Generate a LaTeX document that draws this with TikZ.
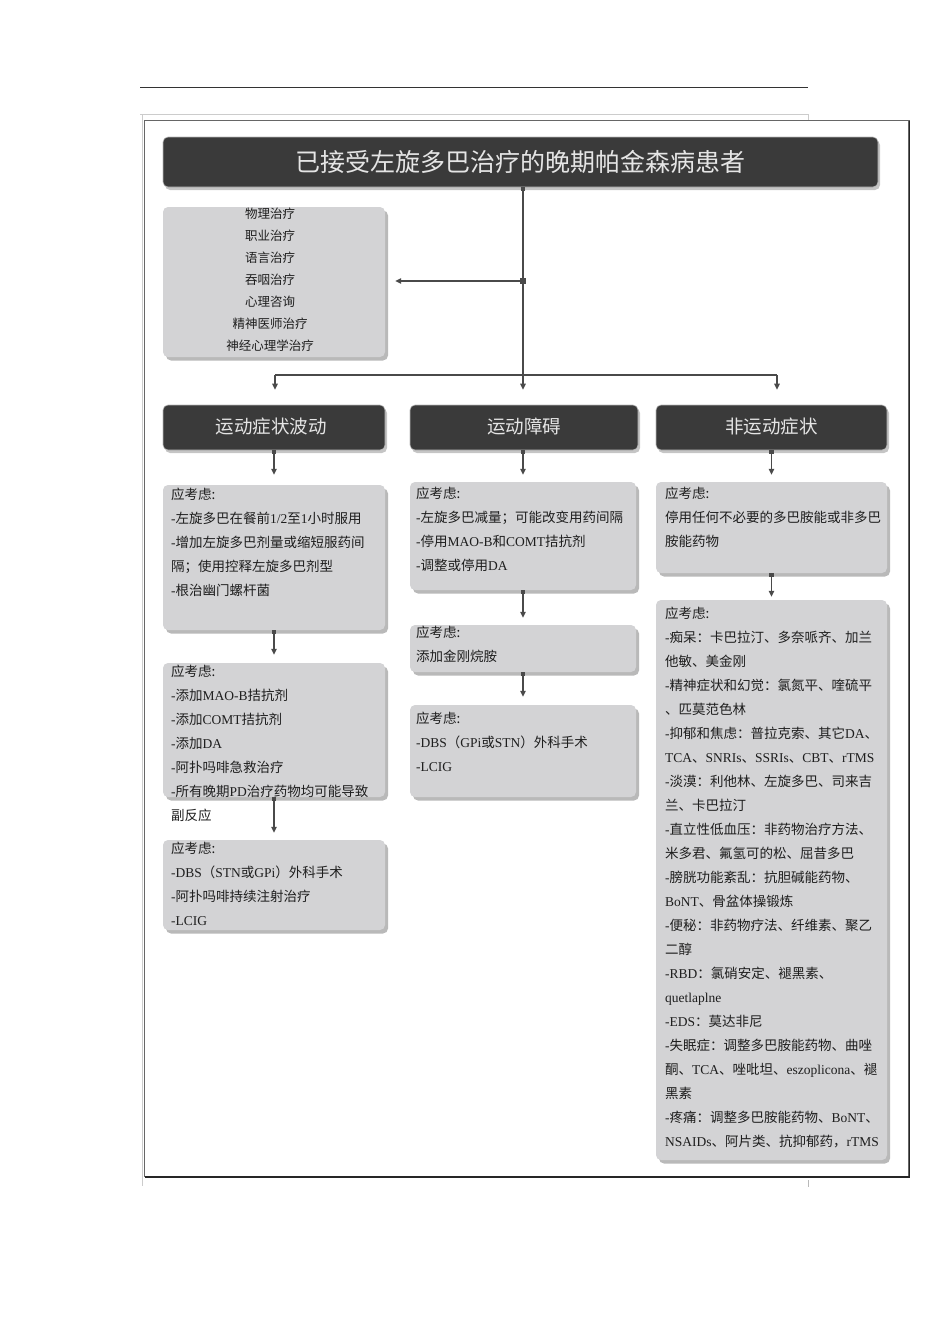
\documentclass[tikz,border=0pt]{standalone}
\usepackage{fontspec}
\setmainfont{Noto Sans CJK SC}
\newfontfamily\latinf{Liberation Serif}
\newcommand\rl[1]{{\latinf #1}}
\usetikzlibrary{shadows,arrows.meta}
\definecolor{darkbox}{HTML}{3A3A3A}
\definecolor{graybox}{HTML}{D3D3D5}
\definecolor{linec}{HTML}{4A4A4A}
\definecolor{txt}{HTML}{1E1E1E}
\begin{document}
\begin{tikzpicture}[x=1pt,y=-1pt,
  darkb/.style={rectangle, rounded corners=5pt, fill=darkbox, draw=gray!55, line width=0.6pt,
    text=white!90!black, inner sep=0pt,
    drop shadow={shadow xshift=2pt,shadow yshift=-3pt,fill=black!45}},
  grayb/.style={rectangle, rounded corners=5pt, fill=graybox, draw=none, inner sep=0pt,
    drop shadow={shadow xshift=3pt,shadow yshift=-3.5pt,fill=black!55}},
  bodytxt/.style={anchor=north west, inner sep=0pt, align=left, text=txt,
    font=\fontsize{13.5}{24}\selectfont},
  ln/.style={draw=linec, line width=1.2pt},
  arr/.style={ln, -{Triangle[length=6pt,width=5.5pt]}},
  sqarr/.style={ln, {Square[length=3.5pt,width=4.5pt]}-{Triangle[length=6pt,width=5.5pt]}},
]
\useasboundingbox (0,0) rectangle (950,1344);

% page rules and frame
\draw[black!80, line width=1pt] (140,87.5) -- (808,87.5);
\draw[gray!40, line width=0.6pt] (140,114) -- (808,114) -- (808,120);
\draw[gray!40, line width=0.6pt] (142,114) -- (142,1186);
\draw[gray!55, line width=0.6pt] (808,1180) -- (808,1187);
\draw[black!60, line width=1.1pt] (144.5,120.5) rectangle (909,1176.5);
\draw[black!85, line width=1.5pt] (909.5,120.5) -- (909.5,1177) -- (144.5,1177);

% title
\node[darkb, minimum width=715pt, minimum height=50pt, font=\fontsize{25}{30}\selectfont]
  (title) at (520.5,162) {\raisebox{1.5pt}{已接受左旋多巴治疗的晚期帕金森病患者}};

% therapy box
\node[grayb, minimum width=222pt, minimum height=150pt] (ther) at (274,282) {};
\node[anchor=north, inner sep=0pt, align=center, text=txt, font=\fontsize{12.5}{22}\selectfont]
  (thert) at (270,208) {物理治疗\\职业治疗\\语言治疗\\吞咽治疗\\心理咨询\\精神医师治疗\\神经心理学治疗};

% headers
\node[darkb, minimum width=222pt, minimum height=45pt, font=\fontsize{18.5}{22}\selectfont]
  (h1) at (274,427.5) {\raisebox{3pt}{运动症状波动\hspace{6pt}}};
\node[darkb, minimum width=228pt, minimum height=45pt, font=\fontsize{18.5}{22}\selectfont]
  (h2) at (524,427.5) {\raisebox{3pt}{运动障碍}};
\node[darkb, minimum width=231pt, minimum height=45pt, font=\fontsize{18.5}{22}\selectfont]
  (h3) at (771.5,427.5) {\raisebox{3pt}{非运动症状}};

% left column
\node[grayb, minimum width=222pt, minimum height=145pt] (L1) at (274,557.5) {};
\node[bodytxt] (L1t) at (171,488) {应考虑:\\
\rl{-}左旋多巴在餐前\rl{1/2}至\rl{1}小时服用\\
\rl{-}增加左旋多巴剂量或缩短服药间\\
隔；使用控释左旋多巴剂型\\
\rl{-}根治幽门螺杆菌};

\node[grayb, minimum width=222pt, minimum height=134pt] (L2) at (274,730) {};
\node[bodytxt] (L2t) at (171,665) {应考虑:\\
\rl{-}添加\rl{MAO-B}拮抗剂\\
\rl{-}添加\rl{COMT}拮抗剂\\
\rl{-}添加\rl{DA}\\
\rl{-}阿扑吗啡急救治疗\\
\rl{-}所有晚期\rl{PD}治疗药物均可能导致\\
副反应};

\node[grayb, minimum width=222pt, minimum height=90pt] (L3) at (274,885) {};
\node[bodytxt] (L3t) at (171,842) {应考虑:\\
\rl{-DBS}（\rl{STN}或\rl{GPi}）外科手术\\
\rl{-}阿扑吗啡持续注射治疗\\
\rl{-LCIG}};

% middle column
\node[grayb, minimum width=226pt, minimum height=108pt] (M1) at (523,536) {};
\node[bodytxt] (M1t) at (416,487) {应考虑:\\
\rl{-}左旋多巴减量；可能改变用药间隔\\
\rl{-}停用\rl{MAO-B}和\rl{COMT}拮抗剂\\
\rl{-}调整或停用\rl{DA}};

\node[grayb, minimum width=226pt, minimum height=47pt] (M2) at (523,648.5) {};
\node[bodytxt] (M2t) at (416,626) {应考虑:\\添加金刚烷胺};

\node[grayb, minimum width=226pt, minimum height=92pt] (M3) at (523,751) {};
\node[bodytxt] (M3t) at (416,712) {应考虑:\\
\rl{-DBS}（\rl{GPi}或\rl{STN}）外科手术\\
\rl{-LCIG}};

% right column
\node[grayb, minimum width=231pt, minimum height=91pt] (R1) at (771.5,527.5) {};
\node[bodytxt] (R1t) at (665,487) {应考虑:\\
停用任何不必要的多巴胺能或非多巴\\
胺能药物};

\node[grayb, minimum width=231pt, minimum height=560pt] (R2) at (771.5,880) {};
\node[bodytxt] (R2t) at (665,607) {应考虑:\\
\rl{-}痴呆：卡巴拉汀、多奈哌齐、加兰\\
他敏、美金刚\\
\rl{-}精神症状和幻觉：氯氮平、喹硫平\\
、匹莫范色林\\
\rl{-}抑郁和焦虑：普拉克索、其它\rl{DA}、\\
\rl{TCA}、\rl{SNRIs}、\rl{SSRIs}、\rl{CBT}、\rl{rTMS}\\
\rl{-}淡漠：利他林、左旋多巴、司来吉\\
兰、卡巴拉汀\\
\rl{-}直立性低血压：非药物治疗方法、\\
米多君、氟氢可的松、屈昔多巴\\
\rl{-}膀胱功能紊乱：抗胆碱能药物、\\
\rl{BoNT}、骨盆体操锻炼\\
\rl{-}便秘：非药物疗法、纤维素、聚乙\\
二醇\\
\rl{-RBD}：氯硝安定、褪黑素、\\
\rl{quetlaplne}\\
\rl{-EDS}：莫达非尼\\
\rl{-}失眠症：调整多巴胺能药物、曲唑\\
酮、\rl{TCA}、唑吡坦、\rl{eszoplicona}、褪\\
黑素\\
\rl{-}疼痛：调整多巴胺能药物、\rl{BoNT}、\\
\rl{NSAIDs}、阿片类、抗抑郁药，\rl{rTMS}};

% connectors
\coordinate (jt) at (523,281);
\coordinate (jn) at (523,375);
\coordinate (bl) at (275,375);
\coordinate (br) at (777,375);
\draw[ln, {Square[length=3.5pt,width=4.5pt]}-] (title.south -| jn) -- (jn);
\fill[linec] ([xshift=-3pt,yshift=-3pt]jt) rectangle ([xshift=3pt,yshift=3pt]jt);
\draw[arr, shorten >=10pt] (jt) -- (jt -| ther.east);
\draw[ln] (bl) -- (br);
\draw[arr, shorten >=15pt] (bl) -- (bl |- h1.north);
\draw[arr, shorten >=15pt] (jn) -- (jn |- h2.north);
\draw[arr, shorten >=15pt] (br) -- (br |- h3.north);

\draw[sqarr, shorten >=10pt] (h1.south) -- (L1.north);
\draw[sqarr, shorten >=8pt] (L1.south) -- (L2.north);
\draw[sqarr, shorten >=7pt] (L2.south) -- (L3.north);

\draw[sqarr, shorten >=7pt] (h2.south -| M1.north) -- (M1.north);
\draw[sqarr, shorten >=7pt] (M1.south) -- (M2.north);
\draw[sqarr, shorten >=8pt] (M2.south) -- (M3.north);

\draw[sqarr, shorten >=7pt] (h3.south) -- (R1.north);
\draw[sqarr, shorten >=3pt] (R1.south) -- (R2.north);
\end{tikzpicture}
\end{document}
